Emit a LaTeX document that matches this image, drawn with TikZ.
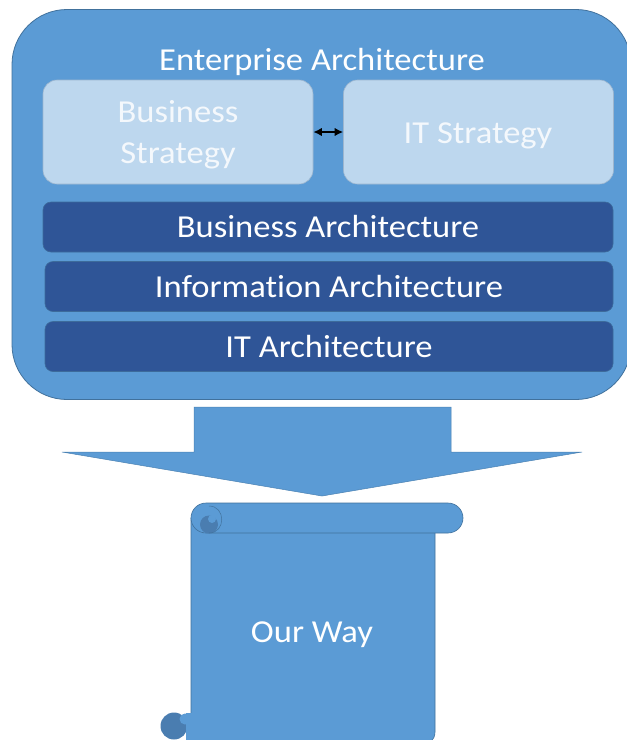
\documentclass[tikz,border=0pt]{standalone}
\usepackage{fontspec}
\setmainfont{Carlito}[FakeStretch=1.08, Ligatures=NoCommon]
\usetikzlibrary{arrows.meta}
\definecolor{midblue}{HTML}{5B9BD5}
\definecolor{edgeblue}{HTML}{41719C}
\definecolor{lightblue}{HTML}{BDD7EE}
\definecolor{lightedge}{HTML}{9DB6CF}
\definecolor{darkblue}{HTML}{2F5597}
\definecolor{curlblue}{HTML}{4A7DB0}
\definecolor{paletext}{HTML}{F4F8FC}
\tikzset{
  outerbox/.style={draw=edgeblue, fill=midblue, line width=0.8pt, rounded corners=55pt, minimum width=619pt, minimum height=390pt, inner sep=0pt},
  stratbox/.style={draw=lightedge, fill=lightblue, line width=0.6pt, rounded corners=14pt, minimum width=270pt, minimum height=104pt, inner sep=0pt},
  strattext/.style={text=paletext, font=\fontsize{32}{41}\selectfont, inner sep=0pt, anchor=base, align=center},
  layerbox/.style={draw=edgeblue!80!darkblue, fill=darkblue, line width=0.6pt, rounded corners=8pt, minimum height=50pt, inner sep=0pt, text=white, font=\fontsize{32}{38}\selectfont},
  titletext/.style={text=white, font=\fontsize{32}{38}\selectfont, inner sep=0pt, anchor=base},
  scrollfill/.style={fill=midblue, draw=edgeblue, line width=0.6pt},
}
\begin{document}
\begin{tikzpicture}[x=1pt,y=-1pt]
\useasboundingbox (0,0) rectangle (627,740);
\fill[white] (0,0) rectangle (627,740);
% outer container
\node[outerbox] (ea) at (321.5,204.5) {};
\node[titletext] (eatitle) at (322,70) {Enterprise Architecture};
% strategy boxes
\node[stratbox] (bs) at (178,132) {};
\node[stratbox] (its) at (478.5,132) {};
\node[strattext] (bstext1) at (178,122) {Business};
\node[strattext] (bstext2) at (178,163) {Strategy};
\node[strattext] (itstext) at (478,143) {IT Strategy};
\draw[{Latex[length=8.5pt,width=8.5pt]}-{Latex[length=8.5pt,width=8.5pt]}, line width=1.7pt, black] (bs.east) -- (its.west);
% layers
\node[layerbox, minimum width=570pt] (ba) at (328,227) {\raisebox{-1.5pt}{Business Architecture}};
\node[layerbox, minimum width=568pt] (ia) at (329,286.5) {\raisebox{-1.5pt}{Information Architecture}};
\node[layerbox, minimum width=568pt] (ita) at (329,346.5) {\raisebox{-1.5pt}{IT Architecture}};
% big arrow
\path[fill=midblue, draw=edgeblue!60!midblue, line width=0.5pt]
  (194,407) -- (451,407) -- (451,452) -- (582,452) -- (322,496) -- (62,452) -- (194,452) -- cycle;
% scroll body
\path[scrollfill] (191,518) -- (435,518) [rounded corners=14pt] -- (435,746) -- (300,746) [sharp corners] -- (191,746) -- cycle;
% bottom-left curl
\fill[curlblue] (174,726) circle[radius=13.5];
\fill[midblue] (185,719) circle[radius=5.5];
\fill[midblue] (186,713) rectangle (191.5,740);
% top roll
\draw[scrollfill, rounded corners=15pt] (191,503) rectangle (463,533);
% top-left curl
\fill[curlblue] (209,524.5) circle[radius=9];
\fill[midblue] (212,519) circle[radius=4];
\draw[edgeblue, line width=0.5pt] (209,506) .. controls (226,506) and (226,533) .. (209,533);
\node[text=white, font=\fontsize{32}{38}\selectfont, inner sep=0pt, anchor=base] (ourway) at (312,642) {Our Way};
\end{tikzpicture}
\end{document}
